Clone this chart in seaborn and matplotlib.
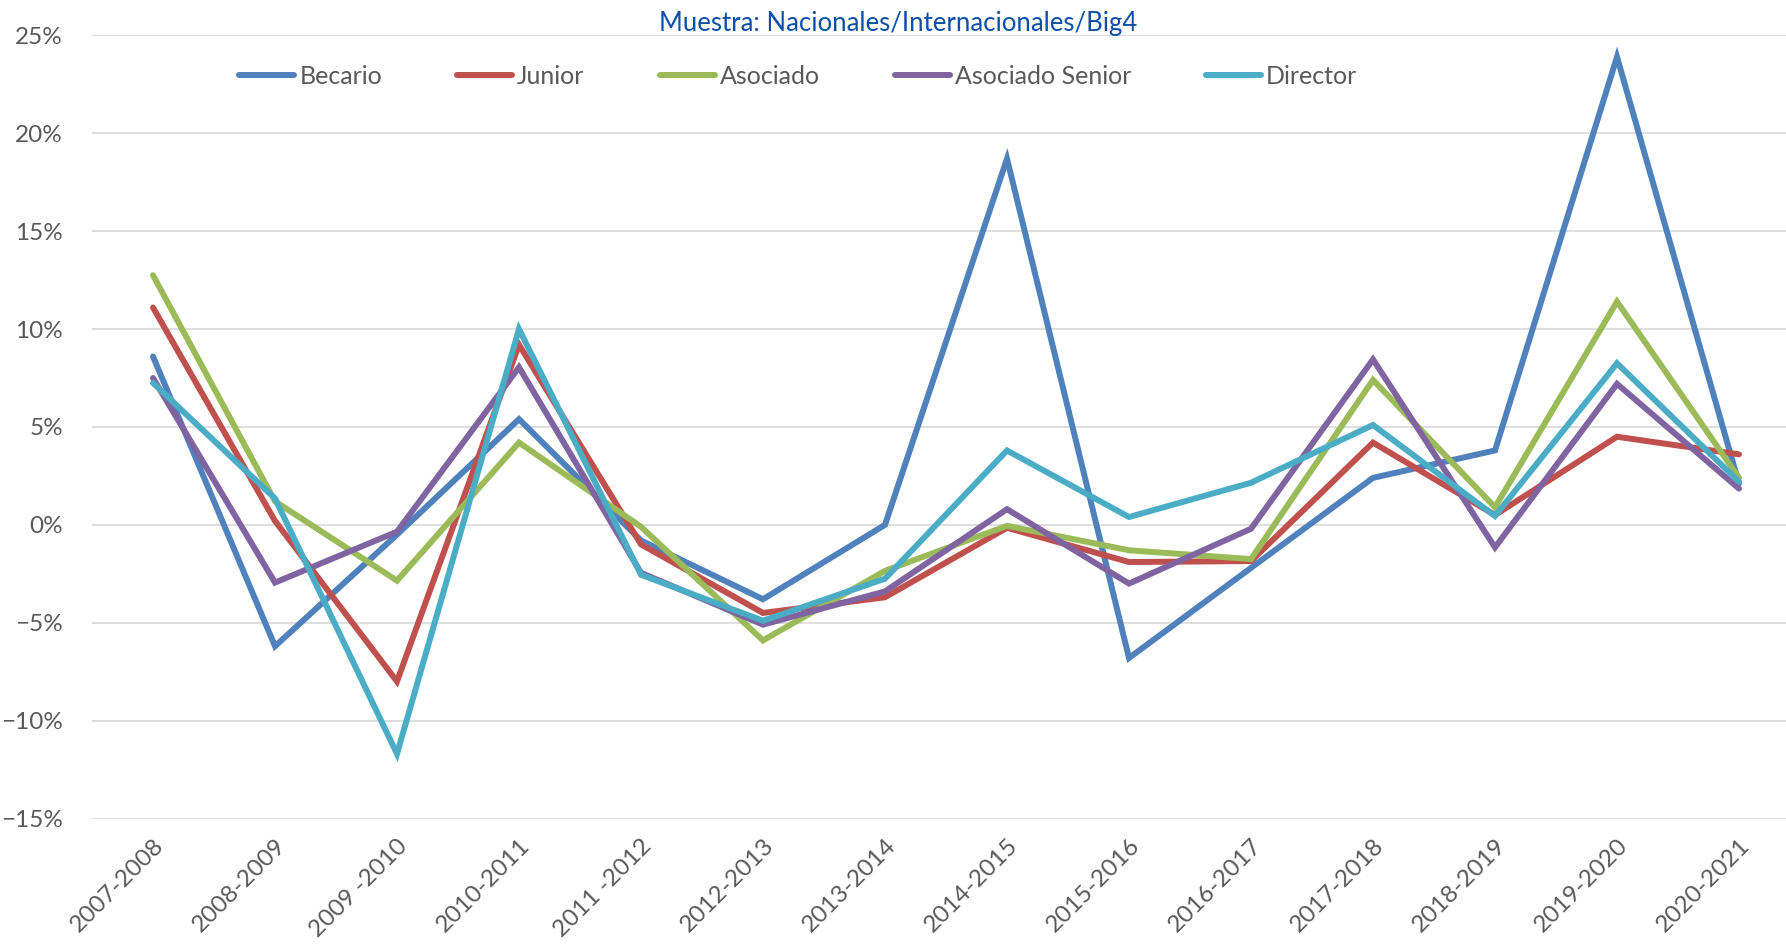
import numpy as np
import pandas as pd
import matplotlib
matplotlib.use("Agg")
import matplotlib.pyplot as plt
import seaborn as sns
from matplotlib.ticker import PercentFormatter

periodos = ["2007-2008", "2008-2009", "2009 -2010", "2010-2011", "2011 -2012",
            "2012-2013", "2013-2014", "2014-2015", "2015-2016", "2016-2017",
            "2017-2018", "2018-2019", "2019-2020", "2020-2021"]

# variacion anual (%)
becario = [8.6, -6.2, -0.5, 5.4, -0.8, -3.8, 0.0, 18.7, -6.8, -2.2, 2.4, 3.8, 23.9, 2.1]
junior = [11.1, 0.2, -8.0, 9.2, -1.0, -4.5, -3.7, -0.15, -1.9, -1.85, 4.2, 0.5, 4.5, 3.6]
asociado = [12.75, 1.2, -2.85, 4.2, -0.1, -5.9, -2.35, -0.05, -1.3, -1.75, 7.4, 0.9, 11.4, 2.4]
asociado_senior = [7.5, -2.95, -0.35, 8.05, -2.45, -5.1, -3.4, 0.8, -3.0, -0.2, 8.45, -1.15, 7.2, 1.85]
director = [7.25, 1.35, -11.7, 10.0, -2.55, -4.9, -2.75, 3.8, 0.4, 2.15, 5.1, 0.45, 8.25, 2.2]

series = {
    "Becario": becario,
    "Junior": junior,
    "Asociado": asociado,
    "Asociado Senior": asociado_senior,
    "Director": director,
}
colores = ["#4F81BD", "#C0504D", "#9BBB59", "#8064A2", "#4BACC6"]

df = pd.concat(
    [pd.DataFrame({"pos": np.arange(len(periodos)), "valor": np.array(v) / 100, "categoria": k})
     for k, v in series.items()],
    ignore_index=True,
)

sns.set_theme(style="white")
plt.rcParams["font.family"] = ["Lato", "DejaVu Sans"]
texto = "#595959"

fig = plt.figure(figsize=(17.86, 9.44), dpi=100)
ax = fig.add_axes([92 / 1786, 1 - 818.5 / 944, (1800 - 92) / 1786, (818.5 - 35.4) / 944])

sns.lineplot(data=df, x="pos", y="valor", hue="categoria", hue_order=list(series.keys()),
             palette=colores, linewidth=4.3, sort=False, ax=ax,
             solid_capstyle="round", solid_joinstyle="miter")

ax.set_xlim(-0.5, len(periodos) - 0.5)
ax.set_ylim(-0.15, 0.25)
ax.set_yticks(np.arange(-0.15, 0.26, 0.05))
ax.yaxis.set_major_formatter(PercentFormatter(1.0, decimals=0))
ax.set_xticks(np.arange(len(periodos)))
ax.set_xticklabels(periodos, rotation=45, ha="right", va="top", rotation_mode="anchor")
ax.tick_params(axis="y", length=0, pad=21, labelsize=17.5, labelcolor=texto)
ax.tick_params(axis="x", length=0, pad=12, labelsize=17.5, labelcolor=texto)
ax.set_xlabel("")
ax.set_ylabel("")
ax.grid(axis="y", color="#D9D9D9", linewidth=1.2)
ax.set_axisbelow(True)
for s in ax.spines.values():
    s.set_visible(False)

fig.text(0.503, 1 - 23 / 944, "Muestra: Nacionales/Internacionales/Big4",
         ha="center", va="center", fontsize=18.5, color="#0B4FA8")

leg = ax.legend(loc="center", bbox_to_anchor=(0.447, 1 - 76 / 944), bbox_transform=fig.transFigure,
                ncol=5, frameon=False, fontsize=18, handlelength=2.2, handletextpad=0.2,
                columnspacing=3.0)
for t in leg.get_texts():
    t.set_color(texto)
for h in leg.get_lines():
    h.set_linewidth(4.3)
    h.set_solid_capstyle("round")

fig.savefig("out.png", dpi=100)
